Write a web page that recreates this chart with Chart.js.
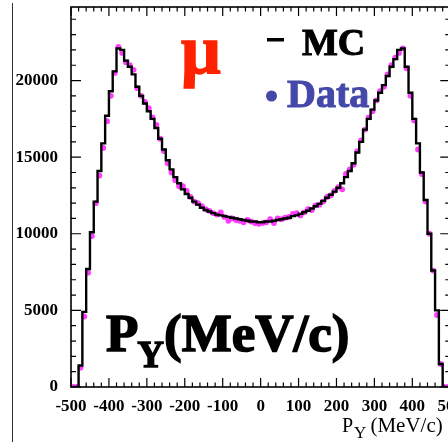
<!DOCTYPE html>
<html>
<head>
<meta charset="utf-8">
<script src="https://cdn.jsdelivr.net/npm/chart.js@4.4.1/dist/chart.umd.min.js"></script>
<style>
  html, body { margin: 0; padding: 0; background: #fff; overflow: hidden; }
  #wrap { width: 448px; height: 442px; overflow: hidden; }
  canvas { display: block; }
</style>
</head>
<body>
<div id="wrap"><canvas id="pyChart" width="472" height="442"></canvas></div>
<script>
// bin centres in MeV/c (10 MeV/c bins)
const binCenters = [
  -495, -485, -475, -465, -455, -445, -435, -425, -415, -405,
  -395, -385, -375, -365, -355, -345, -335, -325, -315, -305,
  -295, -285, -275, -265, -255, -245, -235, -225, -215, -205,
  -195, -185, -175, -165, -155, -145, -135, -125, -115, -105,
  -95, -85, -75, -65, -55, -45, -35, -25, -15, -5,
  5, 15, 25, 35, 45, 55, 65, 75, 85, 95,
  105, 115, 125, 135, 145, 155, 165, 175, 185, 195,
  205, 215, 225, 235, 245, 255, 265, 275, 285, 295,
  305, 315, 325, 335, 345, 355, 365, 375, 385, 395,
  405, 415, 425, 435, 445, 455, 465, 475, 485, 495
];

// MC histogram (black line)
const mcCounts = [
  0, 0, 1400, 4900, 7700, 10100, 12100, 14100, 15900, 17700,
  19300, 20600, 22100, 22000, 21300, 20900, 20400, 19600, 19000, 18500,
  18000, 17500, 16900, 16200, 15500, 14800, 14200, 13700, 13300, 12900,
  12600, 12350, 12100, 11900, 11700, 11550, 11450, 11350, 11250, 11200,
  11150, 11100, 11050, 11000, 10950, 10900, 10850, 10800, 10800, 10750,
  10750, 10800, 10800, 10850, 10900, 10950, 11000, 11050, 11150, 11200,
  11300, 11400, 11500, 11650, 11800, 11950, 12150, 12350, 12550, 12750,
  13000, 13300, 13700, 14100, 14600, 15300, 16000, 16800, 17500, 18100,
  18700, 19200, 19700, 20300, 20900, 21400, 22000, 22100, 20900, 19200,
  17500, 15900, 14000, 12200, 10000, 7600, 5000, 1500, 0, 0
];

// measured data (magenta dots)
const dataCounts = [
  0, 0, 1260, 4600, 7460, 9850, 12000, 13800, 15600, 17350,
  19000, 20500, 22200, 21800, 21200, 21000, 20700, 19500, 19000, 18600,
  18200, 17600, 17100, 16200, 15400, 14600, 14000, 13500, 13100, 13100,
  12800, 12400, 12100, 12000, 11800, 11600, 11500, 11350, 11250, 11400,
  11100, 10850, 11000, 10900, 10850, 10750, 10900, 10800, 10700, 10650,
  10700, 10750, 10950, 10700, 11000, 10950, 11050, 11100, 11300, 11350,
  11200, 11400, 11600, 11550, 11850, 11900, 12100, 12400, 12500, 12800,
  13050, 12900, 13900, 14200, 14500, 15400, 16100, 16800, 17600, 18000,
  18700, 19300, 19600, 20400, 21000, 21500, 21800, 22100, 20800, 19000,
  17400, 15500, 13900, 12100, 10000, 7600, 4700, 1500, 0, 0
];

const xTickValues = [-500, -400, -300, -200, -100, 0, 100, 200, 300, 400, 500];
const yTickValues = [0, 5000, 10000, 15000, 20000];

const SERIF = '"Liberation Serif", "Times New Roman", serif';

// text with a thin outline so it looks as heavy as the original
function heavyText(ctx, txt, x, y, stroke) {
  ctx.fillText(txt, x, y);
  if (stroke) {
    ctx.lineWidth = stroke;
    ctx.strokeStyle = ctx.fillStyle;
    ctx.strokeText(txt, x, y);
  }
}

// frame, inward ticks and the labels drawn inside the picture
const frameAndText = {
  id: 'frameAndText',
  afterDraw(chart) {
    const { ctx, chartArea: a, scales: { x, y } } = chart;
    ctx.save();

    // thin rule on the far left of the page
    ctx.strokeStyle = '#333';
    ctx.lineWidth = 1;
    ctx.beginPath();
    ctx.moveTo(12.5, 3);
    ctx.lineTo(12.5, 442);
    ctx.stroke();

    // frame
    ctx.strokeStyle = '#000';
    ctx.lineWidth = 1.6;
    ctx.strokeRect(a.left, a.top, a.right - a.left, a.bottom - a.top);

    // ticks pointing inwards
    ctx.lineWidth = 1.2;
    ctx.beginPath();
    for (let v = -500; v <= 500; v += 20) {
      const px = x.getPixelForValue(v);
      const len = v % 100 === 0 ? 9 : 4.5;
      ctx.moveTo(px, a.bottom); ctx.lineTo(px, a.bottom - len);
      ctx.moveTo(px, a.top); ctx.lineTo(px, a.top + len);
    }
    for (let v = 0; v <= y.max; v += 1000) {
      const py = y.getPixelForValue(v);
      const len = v % 5000 === 0 ? 10 : 5;
      ctx.moveTo(a.left, py); ctx.lineTo(a.left + len, py);
      ctx.moveTo(a.right, py); ctx.lineTo(a.right - len, py);
    }
    ctx.stroke();

    ctx.textBaseline = 'alphabetic';
    ctx.textAlign = 'left';

    // mu
    ctx.fillStyle = '#ff2200';
    ctx.font = 'bold 70px ' + SERIF;
    heavyText(ctx, '\u03bc', 181, 73, 1.5);

    // legend
    ctx.fillStyle = '#000';
    ctx.fillRect(267, 38, 17, 3.5);
    ctx.font = 'bold 38px ' + SERIF;
    heavyText(ctx, 'MC', 302, 55, 1);
    ctx.fillStyle = '#4448a8';
    ctx.beginPath();
    ctx.arc(271.5, 96, 5.5, 0, Math.PI * 2);
    ctx.fill();
    ctx.font = 'bold 40px ' + SERIF;
    heavyText(ctx, 'Data', 287, 107, 1);

    // big label inside
    ctx.fillStyle = '#000';
    ctx.font = 'bold 53px ' + SERIF;
    heavyText(ctx, 'P', 106, 351, 1.6);
    let w = ctx.measureText('P').width;
    ctx.font = 'bold 37px ' + SERIF;
    heavyText(ctx, 'Y', 106 + w - 1, 367, 1.3);
    let w2 = ctx.measureText('Y').width;
    ctx.font = 'bold 53px ' + SERIF;
    heavyText(ctx, '(MeV/c)', 106 + w + w2 - 1, 351, 1.6);

    // axis title
    ctx.font = '20px ' + SERIF;
    ctx.fillText('P', 342, 432);
    w = ctx.measureText('P').width;
    ctx.font = '17px ' + SERIF;
    ctx.fillText('Y', 342 + w + 1, 438);
    w2 = ctx.measureText('Y').width;
    ctx.font = '21px ' + SERIF;
    ctx.fillText('(MeV/c)', 342 + w + w2 + 5, 432);

    ctx.restore();
  }
};

const tickFont = { family: SERIF, weight: 'bold', size: 17 };

new Chart(document.getElementById('pyChart'), {
  type: 'line',
  data: {
    datasets: [
      {
        label: 'MC',
        data: binCenters.map((c, i) => ({ x: c, y: mcCounts[i] })),
        stepped: 'middle',
        borderColor: '#000',
        borderWidth: 2.4,
        pointRadius: 0,
        fill: false,
        order: 1
      },
      {
        label: 'Data',
        type: 'scatter',
        data: binCenters.map((c, i) => ({ x: c, y: dataCounts[i] })),
        showLine: false,
        pointRadius: 2.9,
        pointBackgroundColor: '#ff3cff',
        pointBorderWidth: 0,
        order: 2
      }
    ]
  },
  options: {
    responsive: false,
    animation: false,
    layout: { padding: { top: 7, right: 21, left: 0, bottom: 0 } },
    plugins: { legend: { display: false }, tooltip: { enabled: false } },
    scales: {
      x: {
        type: 'linear',
        min: -500,
        max: 500,
        afterBuildTicks(s) { s.ticks = xTickValues.map(v => ({ value: v })); },
        afterFit(s) { s.height = 55; },
        grid: { display: false, drawTicks: false },
        border: { display: false },
        ticks: {
          autoSkip: false,
          maxRotation: 0,
          padding: 9,
          color: '#000',
          font: tickFont,
          callback: v => String(v)
        }
      },
      y: {
        min: 0,
        max: 24800,
        afterBuildTicks(s) { s.ticks = yTickValues.map(v => ({ value: v })); },
        afterFit(s) { s.width = 71; s.paddingTop = 0; s.paddingBottom = 0; },
        grid: { display: false, drawTicks: false },
        border: { display: false },
        ticks: {
          padding: 13,
          color: '#000',
          font: tickFont,
          callback: v => String(v)
        }
      }
    }
  },
  plugins: [frameAndText]
});
</script>
</body>
</html>
